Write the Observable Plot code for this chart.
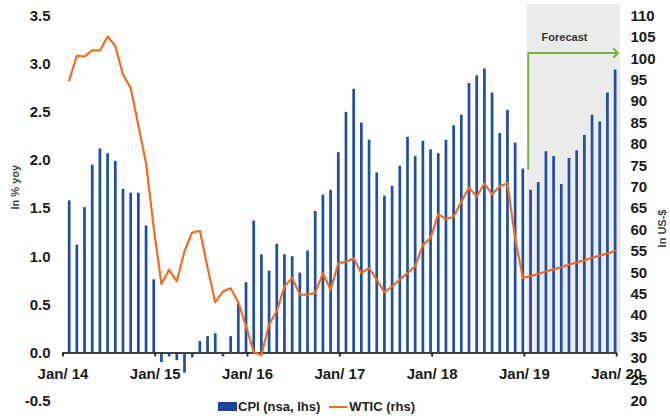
<!DOCTYPE html>
<html><head><meta charset="utf-8">
<script src="https://cdn.jsdelivr.net/npm/d3@7"></script>
<script src="https://cdn.jsdelivr.net/npm/@observablehq/plot@0.6"></script>
<style>
body{margin:0;background:#fff;font-family:"Liberation Sans",Arial,sans-serif;}
#wrap{position:relative;width:670px;height:418px;overflow:hidden;}
#legend{position:absolute;left:218px;top:399px;display:flex;align-items:center;font-size:13px;font-weight:bold;color:#222;white-space:nowrap;}
#legend .sw{display:inline-block;width:19px;height:9px;background:#1d4299;margin-right:1px;}
#legend .ln{display:inline-block;width:18px;height:2px;background:#ef6c23;margin:0 2px 0 9px;}
</style></head><body>
<div id="wrap"><div id="legend"><span class="sw"></span>CPI (nsa, lhs)<span class="ln"></span>WTIC (rhs)</div></div>
<script>
// x tick labels (one per January)
const xLabels = ["Jan/ 14", "Jan/ 15", "Jan/ 16", "Jan/ 17", "Jan/ 18", "Jan/ 19", "Jan/ 20"];
// CPI, % yoy (lhs), monthly
const cpi = [
  1.58, 1.12, 1.51, 1.95, 2.12, 2.07, 1.99, 1.70, 1.66, 1.66, 1.32, 0.76,
  -0.10, -0.04, -0.08, -0.21, -0.05, 0.12, 0.17, 0.20, -0.04, 0.17, 0.51, 0.73,
  1.37, 1.02, 0.85, 1.13, 1.02, 1.00, 0.83, 1.06, 1.47, 1.64, 1.69, 2.08,
  2.50, 2.74, 2.39, 2.21, 1.87, 1.63, 1.73, 1.94, 2.24, 2.04, 2.20, 2.11,
  2.07, 2.21, 2.36, 2.47, 2.80, 2.88, 2.95, 2.70, 2.28, 2.52, 2.18, 1.91,
  1.69, 1.77, 2.09, 2.04, 1.75, 2.02, 2.10, 2.26, 2.47, 2.40, 2.70, 2.94
];
// WTIC, US-$ (rhs), monthly
const wtic = [
  94.9, 100.7, 100.5, 102.0, 101.9, 105.2, 103.0, 96.3, 93.2, 84.4, 75.6, 60.5,
  47.4, 50.7, 48.0, 55.0, 59.4, 59.8, 51.2, 43.1, 45.6, 46.4, 43.1, 37.5,
  31.5, 30.7, 37.9, 41.0, 46.8, 48.8, 44.9, 44.9, 45.3, 49.9, 46.0, 52.2,
  52.6, 53.4, 49.9, 51.1, 48.4, 45.4, 46.8, 48.4, 49.9, 51.5, 56.5, 58.1,
  63.7, 62.5, 63.1, 66.6, 69.9, 67.8, 70.9, 68.3, 70.2, 70.9, 58.0, 48.8,
  49.2, 49.7, 50.3, 50.8, 51.3, 51.9, 52.4, 52.9, 53.5, 54.0, 54.5, 55.1
];
const leftTicks = [-0.5, 0, 0.5, 1, 1.5, 2, 2.5, 3, 3.5];
const rightTicks = [20, 25, 30, 35, 40, 45, 50, 55, 60, 65, 70, 75, 80, 85, 90, 95, 100, 105, 110];
const forecastStart = 60; // first forecast month (Jan 19)
const forecastLabel = "Forecast";
const leftTitle = "In % yoy";
const rightTitle = "In US-$";

const data = cpi.map((c, i) => ({i, cpi: c, wtic: wtic[i]}));
const tickPos = xLabels.map((_, k) => 12 * k - 0.8);
const xMax = 71.7;
// rhs (20..110) mapped onto lhs (-0.5..3.5)
const toL = v => (v - 20) / 22.5 - 0.5;
const fromL = L => Math.round((L + 0.5) * 22.5 + 20);
const font = '"Liberation Sans", Arial, sans-serif';
const arrowX = forecastStart - 0.3;
const arrowTop = 3.115;

const chart = Plot.plot({
  width: 670, height: 418,
  marginLeft: 62.5, marginRight: 50, marginTop: 15.5, marginBottom: 65.5,
  style: {fontFamily: font, background: "transparent", overflow: "visible"},
  x: {type: "linear", domain: [tickPos[0], xMax]},
  y: {domain: [0, 3.5]},
  marks: [
    Plot.rect([0], {x1: forecastStart - 0.4, x2: xMax, fill: "#ebebeb", insetTop: -11.5}),
    Plot.ruleX(data, {x: "i", y1: 0, y2: "cpi", stroke: "#1f4ea3", strokeWidth: 2.7}),
    Plot.ruleY([0], {x1: tickPos[0], x2: tickPos[tickPos.length - 1], stroke: "#404040", strokeWidth: 1.8}),
    Plot.line(data, {x: "i", y: d => toL(d.wtic), stroke: "#ef6c23", strokeWidth: 2.2}),
    Plot.line([[arrowX, cpi[forecastStart - 1]], [arrowX, arrowTop], [71.1, arrowTop]],
      {stroke: "#79b142", strokeWidth: 2, markerEnd: "arrow"}),
    Plot.text([forecastLabel], {frameAnchor: "top-right", textAnchor: "middle", dx: -56, dy: 17, fontSize: 11, fontWeight: "bold", fill: "#333"}),
    Plot.axisX(tickPos, {anchor: "bottom", label: null, tickSize: 4, tickPadding: 11, strokeWidth: 1.8,
      tickFormat: d => xLabels[tickPos.indexOf(d)], fontSize: 15, fontWeight: "bold", color: "#1a1a1a"}),
    Plot.axisY(leftTicks, {anchor: "left", label: null, tickSize: 0, tickPadding: 12.5,
      tickFormat: d => d.toFixed(1), fontSize: 15, fontWeight: "bold", color: "#1a1a1a"}),
    Plot.axisY(rightTicks.map(toL), {anchor: "right", label: null, tickSize: 0, tickPadding: 10,
      tickFormat: L => String(fromL(L)), fontSize: 15, fontWeight: "bold", color: "#1a1a1a"}),
    Plot.text([leftTitle], {frameAnchor: "left", dx: -47.5, dy: 25, rotate: -90, fontSize: 11, fontWeight: "bold", fill: "#444"}),
    Plot.text([rightTitle], {frameAnchor: "right", dx: 42, dy: 25, rotate: -90, fontSize: 11, fontWeight: "bold", fill: "#444"})
  ]
});
chart.style.position = "absolute";
chart.style.left = "0";
chart.style.top = "0";
document.getElementById("wrap").prepend(chart);
</script>
</body></html>
